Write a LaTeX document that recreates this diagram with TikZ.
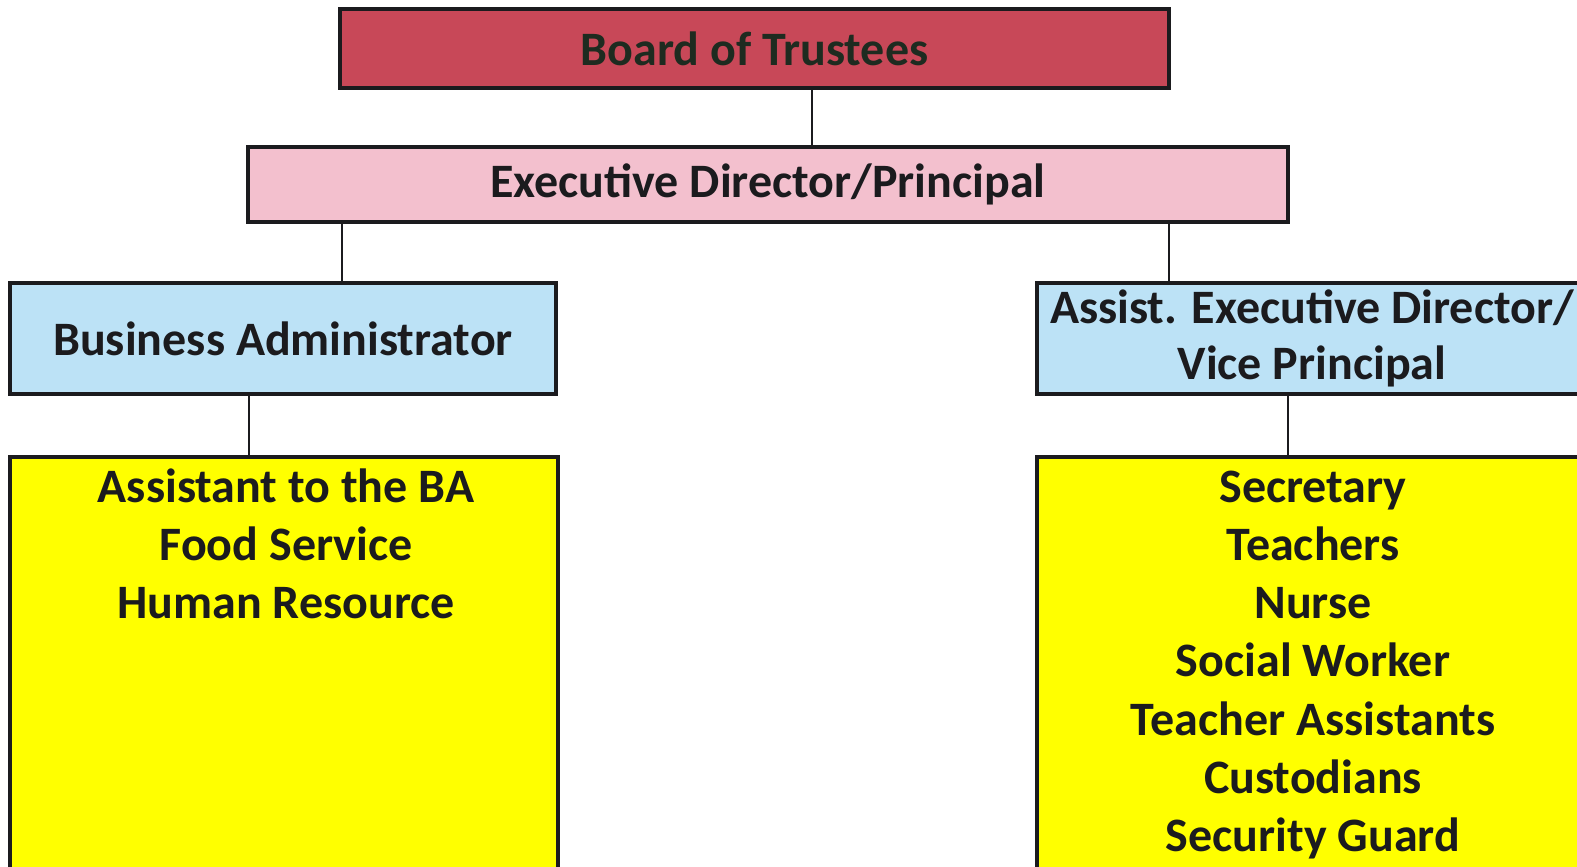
\documentclass[tikz,border=0pt]{standalone}
\usepackage{fontspec}
\setmainfont{Carlito}
\definecolor{boardred}{RGB}{200,72,88}
\definecolor{execpink}{RGB}{243,192,206}
\definecolor{mgrblue}{RGB}{188,226,246}
\definecolor{listyellow}{RGB}{255,255,0}
\definecolor{inkdark}{RGB}{27,27,30}
\definecolor{boardink}{RGB}{30,43,32}
\begin{document}
\begin{tikzpicture}[x=1pt,y=-1pt,
  orgbox/.style={draw=inkdark,line width=3.5pt,inner sep=0pt,text=inkdark,
    font=\fontsize{48}{56}\selectfont\bfseries,align=center},
  listtext/.style={inner sep=0pt,text=inkdark,anchor=base,
    font=\fontsize{48}{58.3}\selectfont\bfseries,align=center},
  link/.style={draw=inkdark,line width=2pt}]
\useasboundingbox (0,0) rectangle (1577,867);
\node[orgbox,fill=boardred,text=boardink,minimum width=829pt,minimum height=79pt] (board) at (754.5,48.5) {Board of Trustees};
\node[orgbox,fill=execpink,minimum width=1040pt,minimum height=75pt] (exec) at (768,184.5) {Executive Director/Principal};
\node[orgbox,fill=mgrblue,minimum width=546pt,minimum height=111pt] (ba) at (283,338.5) {Business Administrator};
\node[orgbox,fill=mgrblue,minimum width=550pt,minimum height=111pt] (avp) at (1312,338.5) {Assist. Executive Director/\\Vice Principal};
\node[orgbox,fill=listyellow,minimum width=548pt,minimum height=420pt,anchor=north] (balist) at (284,455) {};
\node[orgbox,fill=listyellow,minimum width=550pt,minimum height=420pt,anchor=north] (avplist) at (1312,455) {};
\node[listtext] (batext) at (286,618.6) {Assistant to the BA\\Food Service\\Human Resource};
\node[listtext] (avptext) at (1313,851.8) {Secretary\\Teachers\\Nurse\\Social Worker\\Teacher Assistants\\Custodians\\Security Guard};
\draw[link] ([xshift=57.5pt]board.south) -- ([xshift=57.5pt]board.south |- exec.north);
\draw[link] ([xshift=-426pt]exec.south) -- ([xshift=-426pt]exec.south |- ba.north);
\draw[link] ([xshift=401pt]exec.south) -- ([xshift=401pt]exec.south |- avp.north);
\draw[link] ([xshift=-34pt]ba.south) -- ([xshift=-34pt]ba.south |- balist.north);
\draw[link] ([xshift=-24pt]avp.south) -- ([xshift=-24pt]avp.south |- avplist.north);
\end{tikzpicture}
\end{document}
